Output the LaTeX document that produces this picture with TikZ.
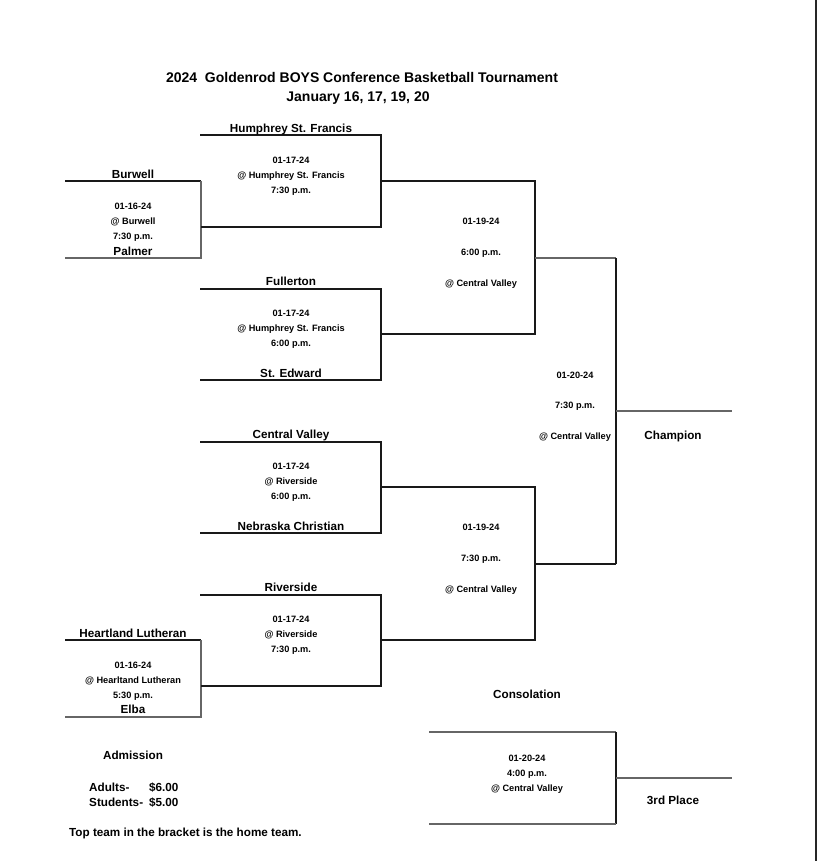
\documentclass[tikz,border=0pt]{standalone}
\usepackage{fontspec}
\setmainfont{Liberation Sans}
\begin{document}
\begin{tikzpicture}[x=1pt,y=-1pt,
  title/.style={font=\bfseries\fontsize{14}{16}\selectfont, anchor=base, inner sep=0pt},
  team/.style={font=\bfseries\fontsize{11.7}{13}\selectfont, anchor=base, inner sep=0pt},
  info/.style={font=\bfseries\fontsize{9.2}{10}\selectfont, anchor=base, inner sep=0pt},
  ln/.style={line width=1.1pt, black!90},
  gl/.style={line width=1.4pt, black!60}]
\useasboundingbox (0,0) rectangle (817,861);
\fill[white] (0,0) rectangle (817,861);
% right edge rule
\coordinate (rt) at (815.5,0);
\coordinate (rb) at (815.5,861);
\draw[line width=2pt, black!85] (rt) -- (rb);

% title
\node[title] (t1) at (362,83) {2024\ \ Goldenrod BOYS Conference Basketball Tournament};
\node[title] (t2) at (358,102) {January 16, 17, 19, 20};

% ---------- coordinates ----------
% round 0 top
\coordinate (a1) at (65,181);  \coordinate (a2) at (201,181);
\coordinate (a3) at (201,258); \coordinate (a4) at (65,258);
% round 0 bottom
\coordinate (b1) at (65,640);  \coordinate (b2) at (201,640);
\coordinate (b3) at (201,717); \coordinate (b4) at (65,717);
% quarter-finals
\coordinate (q1a) at (200,135); \coordinate (q1b) at (381,135);
\coordinate (q1c) at (381,227); \coordinate (q1d) at (201,227);
\coordinate (q2a) at (200,289); \coordinate (q2b) at (381,289);
\coordinate (q2c) at (381,380); \coordinate (q2d) at (200,380);
\coordinate (q3a) at (200,442); \coordinate (q3b) at (381,442);
\coordinate (q3c) at (381,533); \coordinate (q3d) at (200,533);
\coordinate (q4a) at (200,595); \coordinate (q4b) at (381,595);
\coordinate (q4c) at (381,686); \coordinate (q4d) at (201,686);
% semi-finals
\coordinate (s1a) at (381,181); \coordinate (s1b) at (535,181);
\coordinate (s1c) at (535,334); \coordinate (s1d) at (381,334);
\coordinate (s2a) at (381,487); \coordinate (s2b) at (535,487);
\coordinate (s2c) at (535,640); \coordinate (s2d) at (381,640);
% final
\coordinate (f1) at (535,258); \coordinate (f2) at (616,258);
\coordinate (f3) at (616,564); \coordinate (f4) at (535,564);
\coordinate (fm) at (616,411); \coordinate (fe) at (732,411);
% consolation
\coordinate (c1) at (429,732); \coordinate (c2) at (616,732);
\coordinate (c3) at (616,824); \coordinate (c4) at (429,824);
\coordinate (cm) at (616,778); \coordinate (ce) at (732,778);

% ---------- lines ----------
\draw[ln] (a1) -- (a2);
\draw[gl] (a2) -- (a3) -- (a4);
\draw[ln] (b1) -- (b2);
\draw[gl] (b2) -- (b3) -- (b4);
\foreach \g in {q1,q2,q3,q4}{
  \draw[ln] (\g a) -- (\g b) -- (\g c) -- (\g d);
}
\foreach \g in {s1,s2}{
  \draw[ln] (\g a) -- (\g b) -- (\g c) -- (\g d);
}
\draw[gl] (f1) -- (f2);
\draw[ln] (f2) -- (f3);
\draw[ln] (f3) -- (f4);
\draw[gl] (fm) -- (fe);
\draw[gl] (c1) -- (c2);
\draw[ln] (c2) -- (c3);
\draw[gl] (c3) -- (c4);
\draw[gl] (cm) -- (ce);

% ---------- team names ----------
\node[team] (burwell) at (133,178.5) {Burwell};
\node[team] (palmer) at (133,255.5) {Palmer};
\node[team] (hsf) at (291,132.5) {Humphrey St. Francis};
\node[team] (fullerton) at (291,285.5) {Fullerton};
\node[team] (stedward) at (291,377.5) {St. Edward};
\node[team] (cv) at (291,438.5) {Central Valley};
\node[team] (nc) at (291,530.5) {Nebraska Christian};
\node[team] (riverside) at (291,591.5) {Riverside};
\node[team] (hl) at (133,637.5) {Heartland Lutheran};
\node[team] (elba) at (133,713.5) {Elba};
\node[team] (champ) at (673,439.5) {Champion};
\node[team] (third) at (673,804.5) {3rd Place};
\node[team] (consol) at (527,698.5) {Consolation};

% ---------- game info ----------
\node[info] (r0a1) at (133,209.5) {01-16-24};
\node[info] (r0a2) at (133,224.5) {@ Burwell};
\node[info] (r0a3) at (133,239.5) {7:30 p.m.};
\node[info] (r0b1) at (133,668.5) {01-16-24};
\node[info] (r0b2) at (133,683.5) {@ Hearltand Lutheran};
\node[info] (r0b3) at (133,698.5) {5:30 p.m.};

\node[info] (q1i1) at (291,163.5) {01-17-24};
\node[info] (q1i2) at (291,178.5) {@ Humphrey St. Francis};
\node[info] (q1i3) at (291,193.5) {7:30 p.m.};
\node[info] (q2i1) at (291,316.5) {01-17-24};
\node[info] (q2i2) at (291,331.5) {@ Humphrey St. Francis};
\node[info] (q2i3) at (291,346.5) {6:00 p.m.};
\node[info] (q3i1) at (291,469.5) {01-17-24};
\node[info] (q3i2) at (291,484.5) {@ Riverside};
\node[info] (q3i3) at (291,499.5) {6:00 p.m.};
\node[info] (q4i1) at (291,622.5) {01-17-24};
\node[info] (q4i2) at (291,637.5) {@ Riverside};
\node[info] (q4i3) at (291,652.5) {7:30 p.m.};

\node[info] (s1i1) at (481,224.5) {01-19-24};
\node[info] (s1i2) at (481,255.5) {6:00 p.m.};
\node[info] (s1i3) at (481,286.5) {@ Central Valley};
\node[info] (s2i1) at (481,530.5) {01-19-24};
\node[info] (s2i2) at (481,561.5) {7:30 p.m.};
\node[info] (s2i3) at (481,592.5) {@ Central Valley};

\node[info] (fi1) at (575,378.5) {01-20-24};
\node[info] (fi2) at (575,408.5) {7:30 p.m.};
\node[info] (fi3) at (575,439.5) {@ Central Valley};

\node[info] (ci1) at (527,761.5) {01-20-24};
\node[info] (ci2) at (527,776.5) {4:00 p.m.};
\node[info] (ci3) at (527,791.5) {@ Central Valley};

% ---------- admission ----------
\node[team] (adm) at (133,759.5) {Admission};
\node[team, anchor=base west] (adl) at (89,791.5) {Adults-};
\node[team, anchor=base west] (adp) at (149,791.5) {\$6.00};
\node[team, anchor=base west] (stl) at (89,806.5) {Students-};
\node[team, anchor=base west] (stp) at (149,806.5) {\$5.00};
\node[team, anchor=base west] (note) at (69,836.5) {Top team in the bracket is the home team.};
\end{tikzpicture}
\end{document}
